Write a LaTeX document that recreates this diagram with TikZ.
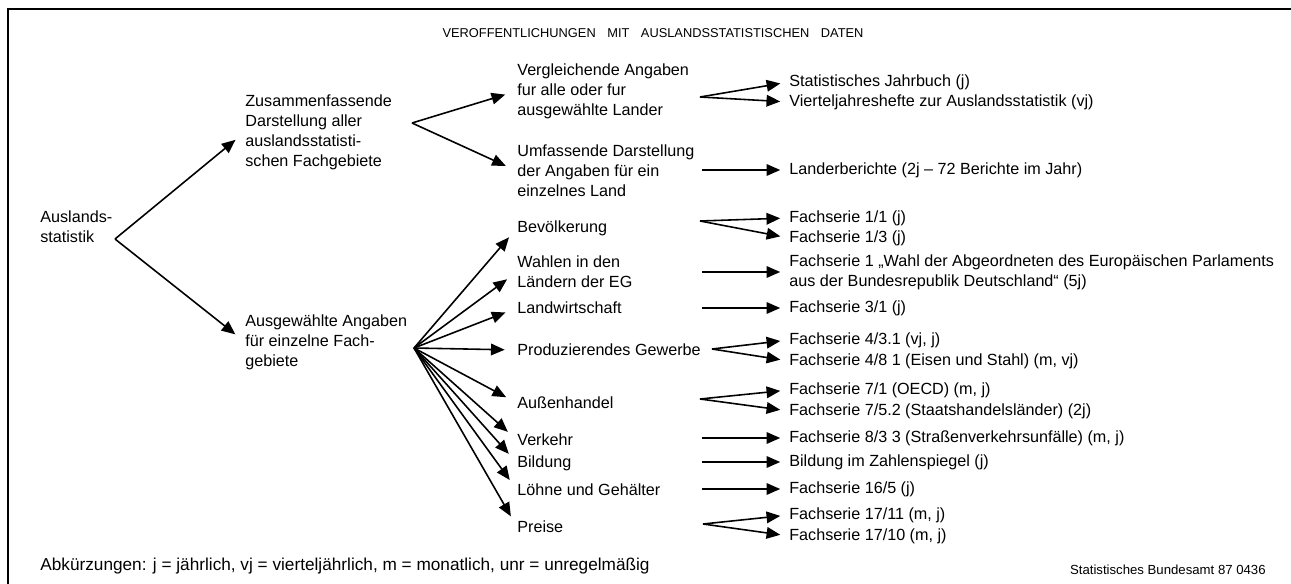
\documentclass[tikz,border=0pt]{standalone}
\usepackage{fontspec}
\setmainfont{Liberation Sans}
\usetikzlibrary{arrows.meta}

\begin{document}
\begin{tikzpicture}[x=0.02cm, y=-0.02cm,
    txt/.style={anchor=west, inner sep=0pt, align=left, font=\fontsize{9.2}{11.4}\selectfont},
    arr/.style={line width=0.9pt, -{Triangle[length=7.8pt, width=6.6pt]}, shorten >=5pt},
    fan/.style={arr, shorten >=7pt}]
    \useasboundingbox (0,0) rectangle (1291,584);
    \draw[line width=1.1pt] (8,584) -- (8,9) -- (1291,9);

    \node (title) at (653,33) [inner sep=0pt, font=\fontsize{7.3}{9}\selectfont]
      {VEROFFENTLICHUNGEN\hspace{0.9em}MIT\hspace{0.9em}AUSLANDSSTATISTISCHEN\hspace{0.9em}DATEN};

    % left part
    \node[txt] (aus) at (40,227) {Auslands-\\statistik};
    \node[txt] (zus) at (245,132) {Zusammenfassende\\Darstellung aller\\auslandsstatisti-\\schen Fachgebiete};
    \node[txt] (ausg) at (245,342) {Ausgewählte Angaben\\für einzelne Fach-\\gebiete};

    % middle column
    \node[txt] (verg) at (517,91) {Vergleichende Angaben\\fur alle oder fur\\ausgewählte Lander};
    \node[txt] (umf) at (517,171) {Umfassende Darstellung\\der Angaben für ein\\einzelnes Land};
    \node[txt] (bev) at (517,228) {Bevölkerung};
    \node[txt] (wahl) at (517,272) {Wahlen in den\\Ländern der EG};
    \node[txt] (land) at (517,308) {Landwirtschaft};
    \node[txt] (prod) at (517,350) {Produzierendes Gewerbe};
    \node[txt] (aussen) at (517,403) {Außenhandel};
    \node[txt] (verk) at (517,440) {Verkehr};
    \node[txt] (bild) at (517,463) {Bildung};
    \node[txt] (lohn) at (517,490) {Löhne und Gehälter};
    \node[txt] (preis) at (517,527) {Preise};

    % publications
    \node[txt] (sj) at (789,82) {Statistisches Jahrbuch (j)};
    \node[txt] (vh) at (789,102) {Vierteljahreshefte zur Auslandsstatistik (vj)};
    \node[txt] (lb) at (789,170) {Landerberichte (2j – 72 Berichte im Jahr)};
    \node[txt] (f11) at (789,218) {Fachserie 1/1 (j)};
    \node[txt] (f13) at (789,238) {Fachserie 1/3 (j)};
    \node[txt] (f1w) at (789,272) {Fachserie 1 „Wahl der Abgeordneten des Europäischen Parlaments\\aus der Bundesrepublik Deutschland“ (5j)};
    \node[txt] (f31) at (789,308) {Fachserie 3/1 (j)};
    \node[txt] (f431) at (789,340) {Fachserie 4/3.1 (vj, j)};
    \node[txt] (f481) at (789,361) {Fachserie 4/8 1 (Eisen und Stahl) (m, vj)};
    \node[txt] (f71) at (789,390) {Fachserie 7/1 (OECD) (m, j)};
    \node[txt] (f752) at (789,411) {Fachserie 7/5.2 (Staatshandelsländer) (2j)};
    \node[txt] (f833) at (789,438) {Fachserie 8/3 3 (Straßenverkehrsunfälle) (m, j)};
    \node[txt] (bz) at (789,462) {Bildung im Zahlenspiegel (j)};
    \node[txt] (f165) at (789,489) {Fachserie 16/5 (j)};
    \node[txt] (f1711) at (789,515) {Fachserie 17/11 (m, j)};
    \node[txt] (f1710) at (789,536) {Fachserie 17/10 (m, j)};

    \node[txt, font=\fontsize{9.8}{11.4}\selectfont] (abk) at (40,566) {Abkürzungen: j = jährlich, vj = vierteljährlich, m = monatlich, unr = unregelmäßig};
    \node (quelle) at (1266,570) [anchor=east, inner sep=0pt, font=\fontsize{7.5}{9}\selectfont] {Statistisches Bundesamt 87 0436};

    % branch points
    \coordinate (av) at (115,239);
    \coordinate (zv) at (412,123);
    \coordinate (fv) at (414,348);
    \coordinate (vv) at (700,97);
    \coordinate (bv) at (700,221);
    \coordinate (pv) at (712,349);
    \coordinate (hv) at (700,399);
    \coordinate (rv) at (703,524);
    \coordinate (col) at (702,0);

    \foreach \dst in {zus,ausg} {
      \draw[fan] (av) -- (\dst.west);
    }
    \foreach \dst in {verg,umf} {
      \draw[fan] (zv) -- (\dst.west);
    }
    \foreach \dst in {bev,wahl,land,prod,aussen,verk,bild,lohn,preis} {
      \draw[fan] (fv) -- (\dst.west);
    }
    \foreach \v/\dst in {vv/sj,vv/vh,bv/f11,bv/f13,pv/f431,pv/f481,hv/f71,hv/f752,rv/f1711,rv/f1710} {
      \draw[arr] (\v) -- (\dst.west);
    }
    \foreach \dst in {lb,f1w,f31,f833,bz,f165} {
      \draw[arr] (col |- \dst.west) -- (\dst.west);
    }
\end{tikzpicture}
\end{document}
